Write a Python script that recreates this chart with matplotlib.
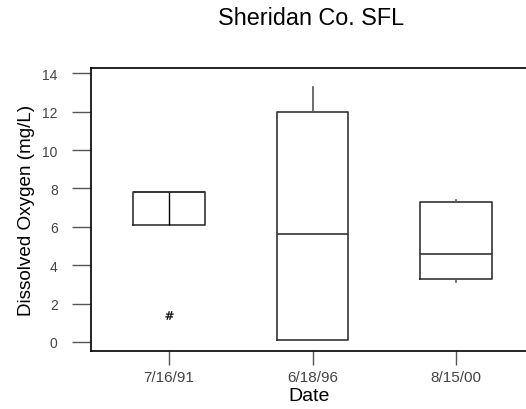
import matplotlib
matplotlib.use("Agg")
import matplotlib.pyplot as plt

# ================================
# Data
# ================================
dates = ["7/16/91", "6/18/96", "8/15/00"]
q1 = [6.1, 0.1, 3.3]
median = [7.8, 5.6, 4.6]
q3 = [7.8, 12.0, 7.3]
whisker_low = [6.1, 0.1, 3.1]
whisker_high = [7.8, 13.3, 7.4]
outliers = [[1.4], [], []]

plt.rcParams["font.family"] = ["Liberation Sans", "DejaVu Sans"]

stats = []
for i in range(len(dates)):
    stats.append({
        "label": dates[i],
        "q1": q1[i],
        "med": median[i],
        "q3": q3[i],
        "whislo": whisker_low[i],
        "whishi": whisker_high[i],
        "fliers": outliers[i],
    })

fig = plt.figure(figsize=(5.26, 4.10), dpi=100)
ax = fig.add_axes([0.173, 0.1415, 0.83, 0.69])

box_col = "#333333"
ax.bxp(
    stats,
    positions=[1, 2, 3],
    widths=0.5,
    showcaps=False,
    boxprops=dict(color=box_col, linewidth=1.2),
    medianprops=dict(color=box_col, linewidth=1.2),
    whiskerprops=dict(color="#555555", linewidth=1.2),
    flierprops=dict(marker="$\\#$", markersize=6, markeredgecolor="black",
                    markerfacecolor="black", markeredgewidth=0.2, linestyle="none"),
)

# first box shows a centre line running through it
ax.vlines(1, q1[0], q3[0], color="black", linewidth=1.0)

ax.set_xlim(0.455, 3.5)
ax.set_ylim(-0.47, 14.27)
ax.set_yticks(range(0, 15, 2))
ax.set_xticks([1, 2, 3])
ax.set_xticklabels(dates)

ax.spines["right"].set_visible(False)
for s in ["left", "top", "bottom"]:
    ax.spines[s].set_linewidth(1.2)
ax.tick_params(axis="y", direction="out", length=14, width=1, color="#555555",
               labelsize=10, labelcolor="#444444", pad=10)
ax.tick_params(axis="x", direction="out", length=10, width=1, color="#555555",
               labelsize=11, labelcolor="#444444", pad=4)

ax.set_xlabel("Date", fontsize=14, labelpad=2)
ax.set_ylabel("Dissolved Oxygen (mg/L)", fontsize=13.6, labelpad=5)
fig.text(0.591, 0.954, "Sheridan Co. SFL", fontsize=16.8, ha="center", va="center")

plt.savefig("out.png", dpi=100)
plt.close()
